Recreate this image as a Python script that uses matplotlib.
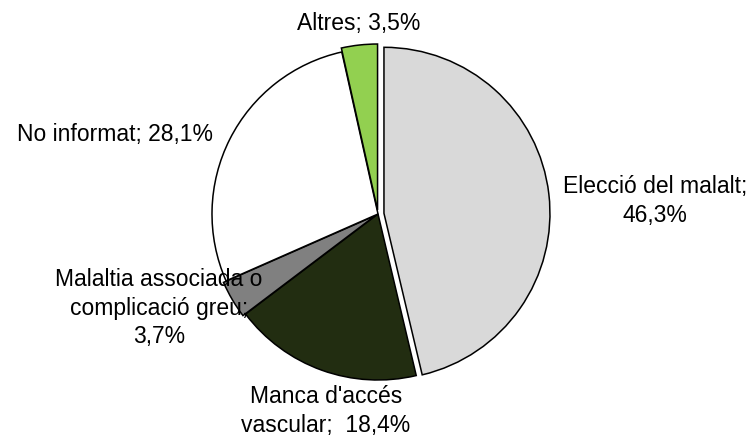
import matplotlib.pyplot as plt

plt.rcParams['font.family'] = ['Liberation Sans', 'DejaVu Sans']

# data, clockwise from the top
labels = ["Elecció del malalt;\n46,3%", "Manca d'accés\nvascular;  18,4%",
          "Malaltia associada o\ncomplicació greu;\n3,7%", "No informat; 28,1%",
          "Altres; 3,5%"]
values = [46.3, 18.4, 3.7, 28.1, 3.5]
colors = ['#d9d9d9', '#222d11', '#808080', '#ffffff', '#92d050']
# offsets in pixels (pie drawn in pixel-like data units)
explode = [6, 0, 3, 0, 4]

# label centres in pixels (x, y from top)
label_pos = [(655, 201), (326, 411), (159, 308), (115, 135), (359, 24)]

W, H = 756, 436
fig = plt.figure(figsize=(W / 100, H / 100), dpi=100)
ax = fig.add_axes([0, 0, 1, 1])

cx, cy, r = 378, H - 214, 166
ax.pie(values, colors=colors, explode=explode, startangle=90, counterclock=False,
       center=(cx, cy), radius=r, frame=True,
       wedgeprops=dict(edgecolor='black', linewidth=1.1))
ax.set_xlim(0, W)
ax.set_ylim(0, H)
ax.set_aspect('equal')
ax.axis('off')

for lab, (x, y) in zip(labels, label_pos):
    ax.text(x, H - y, lab, ha='center', va='center', fontsize=16.5,
            linespacing=1.3, color='black')

fig.savefig('out.png', dpi=100)
